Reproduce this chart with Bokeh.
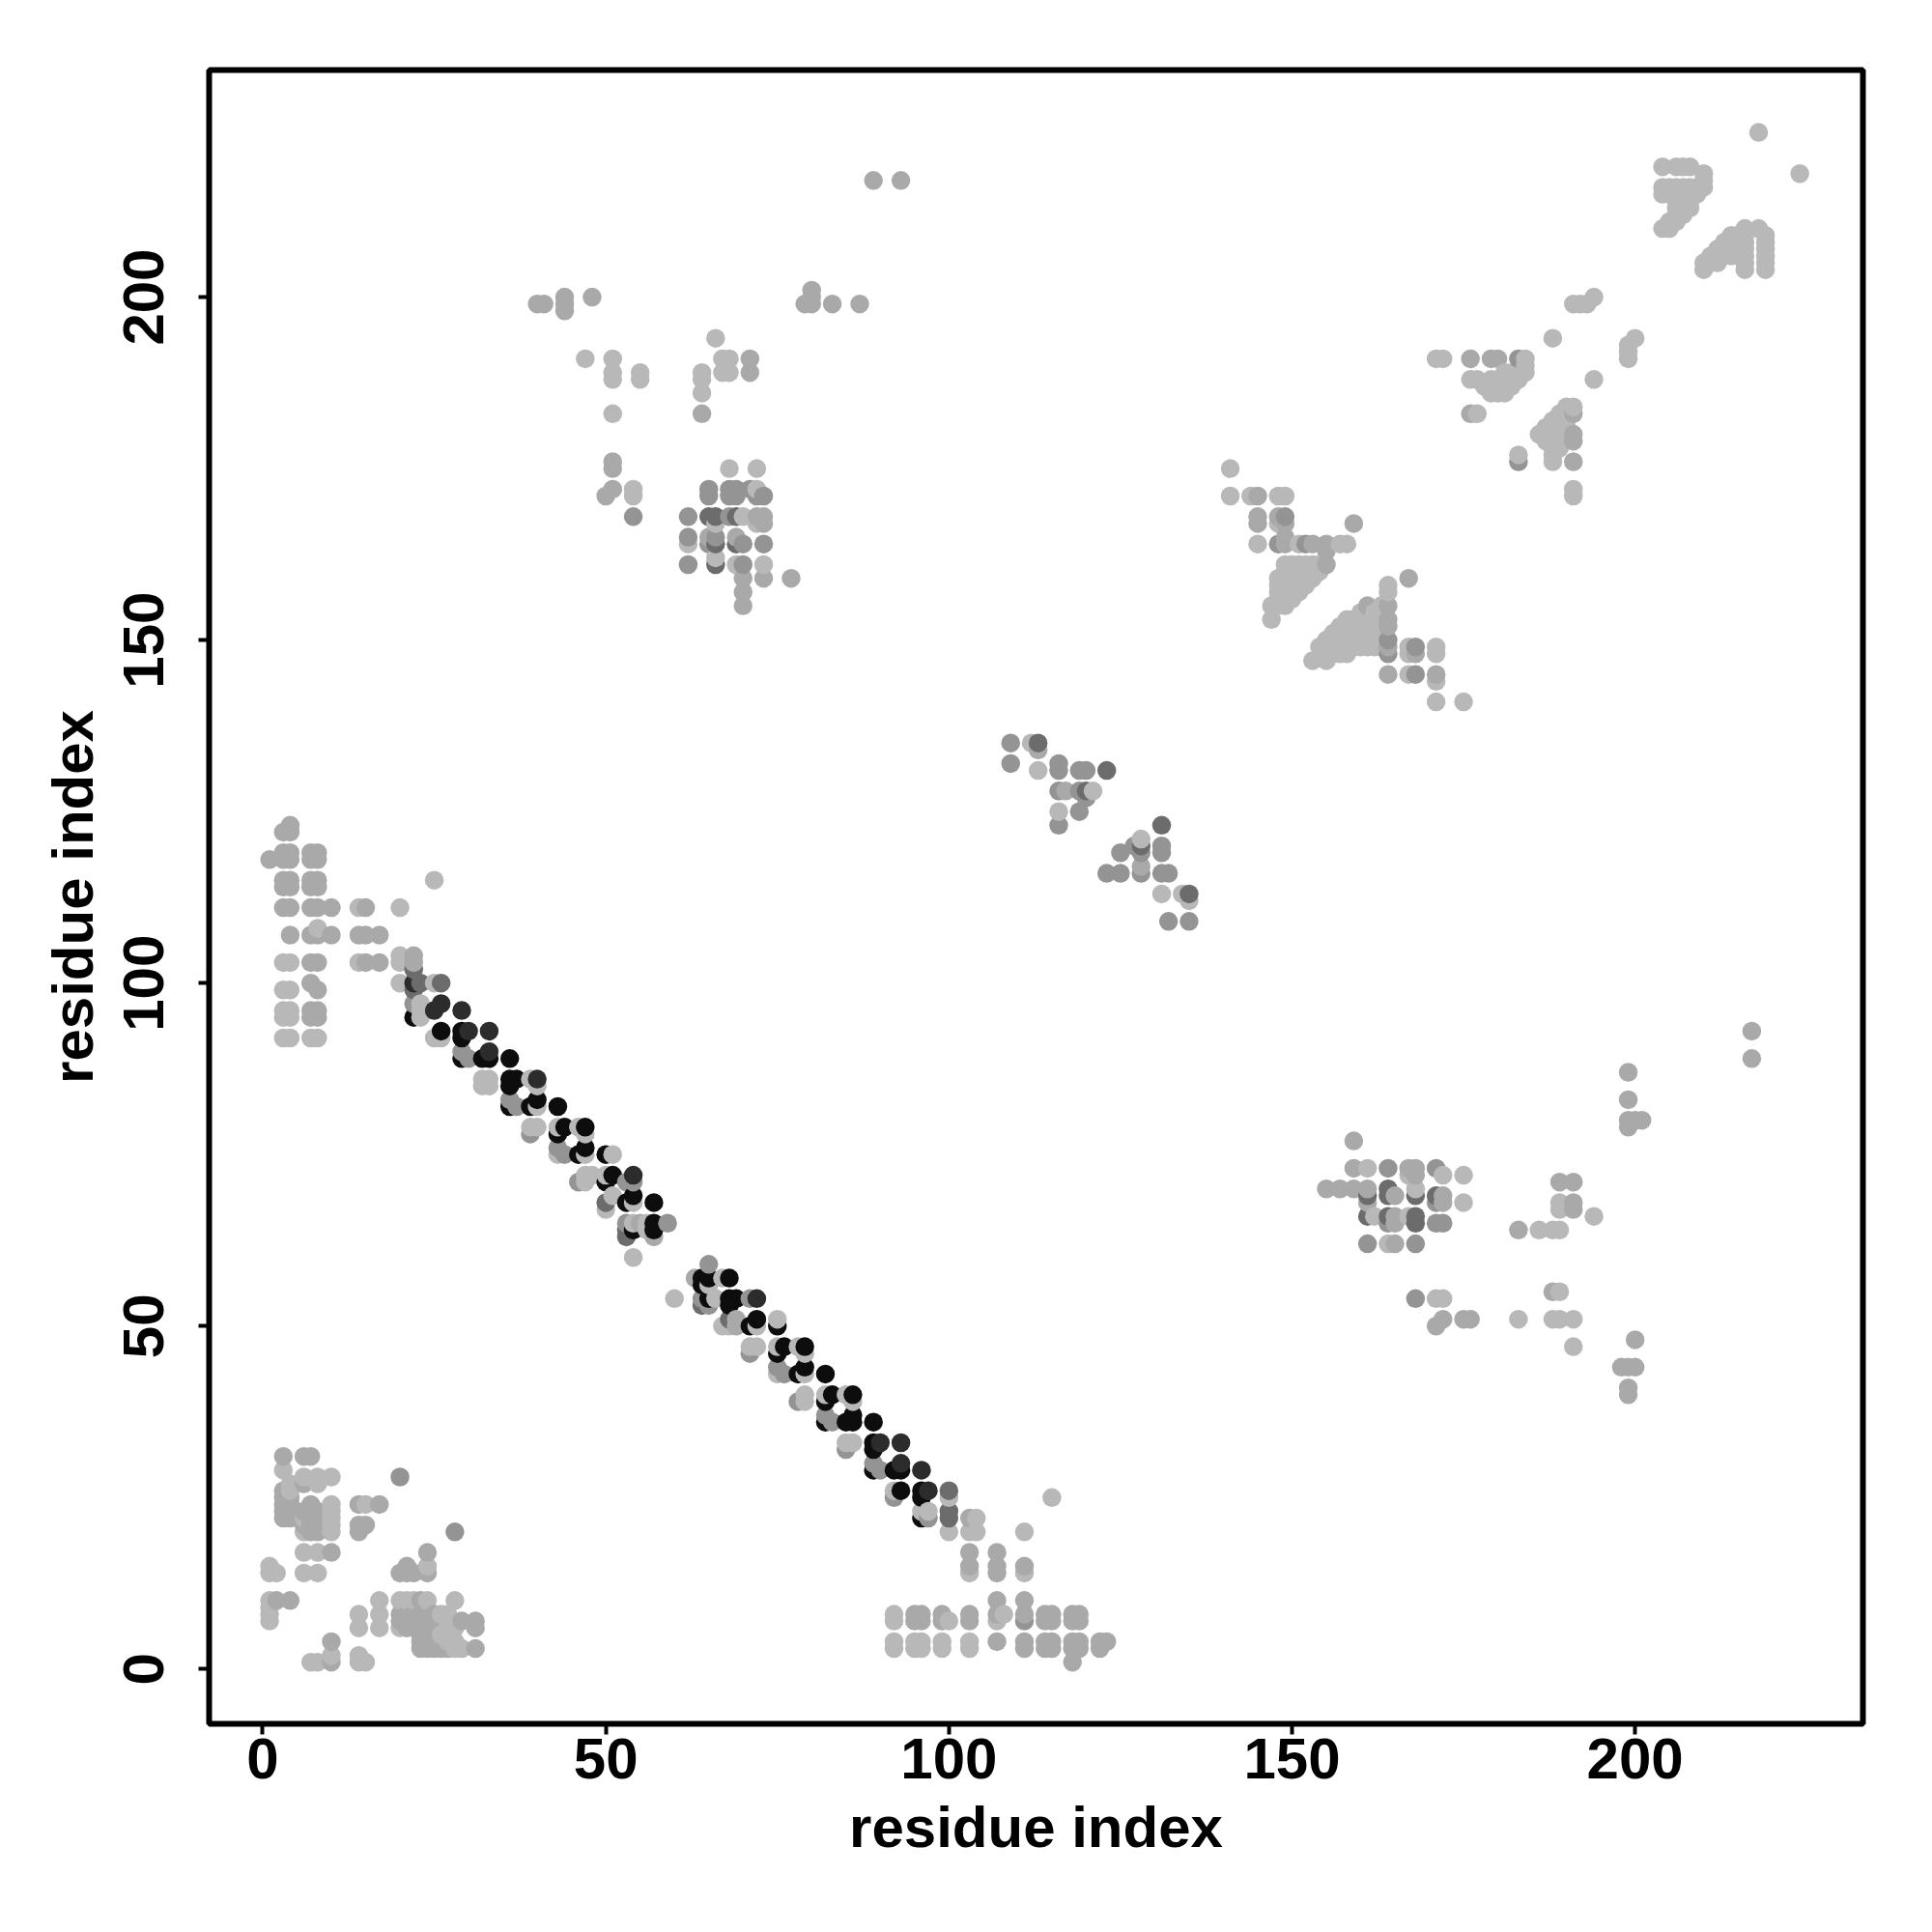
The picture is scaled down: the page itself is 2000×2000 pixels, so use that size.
from bokeh.plotting import figure
from bokeh.models import FixedTicker, Range1d
from bokeh.embed import file_html
from bokeh.resources import INLINE

# each list holds rows (y residue, [x residues]), one list per grey level
light_rows = [
 (1,[7,8,14,15]),(2,[10,14]),(3,[28,29,92,95,96,99,103]),(4,[27,28,92,95,96,99,103]),(5,[26]),(6,[14,17,20,27,28]),
 (7,[1,27,92,100,107]),(8,[1,14,17,26,27,92,108]),(9,[1]),(10,[1,17,20,21,22,24,28]),(14,[1,2,6,8,103,111]),(15,[1,24]),
 (17,[6,8]),(20,[6,10,100,103,104,111]),(21,[10]),(22,[6,10,104]),(23,[10,96,97]),(24,[10,15]),(25,[100,115]),(26,[4,92]),(27,[4,8]),
 (28,[6,8,10]),(29,[3]),(33,[85,86]),(39,[79,86]),(40,[79,82,85]),(43,[75,79]),(46,[79]),(47,[71,72,75,78]),(50,[67,68,72]),
 (51,[75]),(54,[60,66]),(56,[65]),(57,[67]),(60,[54]),(64,[56]),(65,[54,56]),(67,[50]),(69,[51]),(68,[54,175]),(72,[47,48,50,167,172,175]),
 (71,[47]),(75,[43,47,51]),(78,[47]),(79,[39,40,43,46]),(82,[40]),(85,[32,33,40]),(86,[32,33,39]),(92,[3,4,7,8,25,26]),
 (95,[3,4,23]),(96,[3,4,23]),(97,[23]),(99,[3,4]),(100,[20,25]),(103,[3,4,14,20]),(104,[20]),(108,[8]),(111,[14,20]),(115,[25]),
 (62,[164]),(64,[186,188,189]),(66,[162,167,194]),(67,[189]),(68,[189]),(69,[161]),(70,[168]),(73,[161]),(54,[171,172]),
 (51,[183,188,189,191]),(55,[189]),(47,[191]),(112,[135]),(113,[131,134]),(116,[125]),(121,[128]),(125,[116]),(128,[121]),(131,[113]),(135,[112]),
 (141,[171,175]),(144,[171]),(145,[167]),(147,[153,155]),(148,[155,156,157,158,167,171]),
 (149,[154,155,156,157,158,159,160,161,162,163,167,171]),(150,[155,156,157,158,159,160,161,162,163]),
 (151,[156,157,158,159,160,161,162,163]),(152,[157,158,159,160,161,162,163]),(153,[147,158,159,160,161,162,163]),
 (154,[160,161,162,163]),(155,[147,148,149,163]),(156,[148,149,150]),(157,[148,149,150,151,164]),(158,[148,149,150,151,152,164]),
 (159,[148,149,150,151,152,153]),(160,[149,150,151,152,153,154]),(161,[73,69,149,150,151,152,153,154]),(162,[66]),
 (164,[62,145,151,157,158]),(167,[66,72,148]),(168,[70]),(171,[54,141,144,148,149,191]),(172,[54,72,191]),(175,[68,72,141]),
 (177,[183,188]),(176,[188]),(178,[188,189]),(179,[187,188,189]),(180,[186,187,188,189]),(181,[187,188,189,190]),(182,[188,189,190]),
 (183,[51,177,189,190]),(184,[190,191]),(186,[64,179,180,181]),(187,[178,179,180,181,182]),(188,[51,55,64,176,177,179,180,181,182,183,194]),
 (189,[51,55,64,67,68,181,182,183,184]),(190,[184]),(191,[47,51,67,68,171,172,184,199]),(192,[199]),(193,[199]),(194,[66,188,200]),
 (199,[191,192,193]),(200,[194]),(204,[210,216,219]),(205,[210,211,212,216,219]),(206,[211,212,213,214,215,216,219]),
 (207,[212,213,214,215,216,219]),(208,[213,214,215,216,219]),(209,[214,215,216,219]),(210,[204,205,216,218]),(211,[205,206]),
 (212,[206,207]),(213,[206,207,208]),(214,[206,207,208]),(215,[204,205,206,207,208,209]),(216,[204,205,206,207,208,209,210]),
 (217,[210]),(218,[210,224]),(219,[204,206,207,208]),(224,[218]),
]
mid_rows = [
 (1,[10,118]),(3,[23,24,25,26,27,31,111,114,115,118,119,122]),(4,[10,23,24,25,26,107,111,114,115,118,119,122,123]),
 (5,[23,24,25]),(6,[21,22,23,24,25,31]),(7,[20,21,22,23,24,25,29,31,95,96,99,103,114,115,118,119]),
 (8,[20,21,22,23,24,25,95,96,99,103,107,111,114,115,118,119]),(10,[2,4,23,107,111]),(14,[20,21,22,24,107]),(15,[21,103,107,111]),
 (17,[10,24,103,107]),(20,[7,8,14]),(21,[6,7,8,14,15]),(22,[3,4,7,8,103]),(23,[3,4,6,7,8]),(24,[3,4,7,14,17]),(25,[3,4]),(26,[3]),(27,[6]),(31,[3,6,7]),
 (40,[199]),(41,[199]),(44,[198,199,200]),(48,[200]),(50,[171]),(51,[69,172,175,176]),(55,[188]),(63,[57]),(64,[183]),(65,[55,165]),
 (66,[165]),(62,[165]),(68,[161,172,191]),(67,[191]),(69,[165,172]),(70,[155,157,159,161]),(71,[189,191]),(72,[168]),(73,[159,167,168]),(77,[159]),
 (79,[199]),(80,[199,200,201]),(83,[199]),(87,[199]),(89,[217]),(93,[217]),(107,[4,7,8,10,14,15,17]),(100,[7]),(99,[8]),(96,[7,8]),(95,[7,8]),
 (103,[7,8,15,17]),(104,[22]),(103,[22]),(111,[3,4,7,8,10,15]),(114,[3,4,7,8]),(115,[3,4,7,8]),(118,[1,3,4,7,8]),(119,[3,4,7,8]),(122,[3,4]),(123,[4]),
 (57,[63]),(50,[69]),(117,[128]),(116,[123]),(123,[116]),(119,[131]),(128,[117]),(131,[119]),(134,[113]),
 (145,[164,168,171]),(148,[168]),(149,[164]),(152,[164]),(153,[164]),(155,[70,161,164]),(157,[70]),(159,[70,73,77,167]),(161,[155]),(163,[155]),(164,[149,153,155]),
 (165,[65,69,149]),(167,[73,145,149,159]),(168,[72,73,145,148]),(171,[50,145]),(172,[51,69]),(175,[51]),(176,[51,191]),
 (179,[191]),(180,[191]),(183,[64,176,191]),(191,[71,176,179,180]),(189,[71]),(198,[44]),(199,[40,41,44,79,80,83,87]),(200,[44,48,80]),(201,[80]),(217,[89,93]),
]
grey_rows = [
 (7,[111]),(20,[28]),(28,[20]),(22,[97]),(25,[92]),(29,[90]),(30,[89,93]),(32,[85]),(36,[83]),(37,[82]),(39,[78]),(43,[76]),(44,[75]),(46,[71]),
 (54,[64,71]),(59,[65]),(65,[53,59]),(71,[46,53,54]),(76,[43]),(75,[44]),(78,[39]),(82,[37]),(83,[36]),(89,[30]),(90,[29]),
 (53,[65]),(97,[22]),
 (54,[168]),(62,[161,168]),(65,[164,171,172]),(68,[171]),(73,[164,171]),(161,[62,70]),(164,[65,70,73]),(165,[62,66]),
 (168,[54,62,68]),(171,[65,68,69,72,73]),(172,[65,68,69,71]),
 (109,[132,135]),(116,[128,131,132,123,125]),(119,[125,128,131]),(120,[127,131]),(123,[116]),(125,[119]),(127,[120]),
 (128,[116,119]),(131,[116,119,120,123]),(132,[109,116]),(135,[109]),(145,[168]),(149,[168]),(150,[164]),(148,[164]),
 (164,[148,152]),(168,[149]),(176,[183]),(191,[183]),
]
dark_rows = [
 (22,[100]),(23,[100]),(26,[100]),(102,[22]),(53,[64]),(63,[53]),(64,[53]),(68,[50]),(51,[68]),(99,[22]),(100,[23,26]),
 (65,[168]),(69,[161,164,168,171]),(70,[164]),(66,[161,164,168]),(161,[66]),(164,[69,66]),(168,[69,66,65]),
 (123,[131]),(120,[128]),(113,[135]),(131,[123]),(135,[113]),(128,[120]),
]
vdark_rows = [
 (26,[97]),(96,[25,29]),(93,[30,33]),(86,[40]),(90,[33]),(72,[54]),(54,[72]),(33,[90,93]),(30,[93]),(29,[96]),(100,[22]),(97,[26]),
]
black_rows = [
 (22,[96]),(25,[96]),(26,[93,96]),(29,[89,92,93]),(32,[89]),(33,[89]),(36,[82,85,86,89]),(37,[86]),(39,[82]),(40,[83,86]),(43,[78,82]),
 (44,[79]),(46,[75]),(47,[76,79]),(50,[71,75]),(51,[72]),(53,[68]),(54,[69]),(57,[64,65,68]),(56,[64]),(54,[65,68,69]),
 (95,[22]),(93,[26,29]),(92,[29]),(89,[29,32,33,36]),(86,[36,37]),(85,[36]),(83,[40]),(82,[36,39,43]),
 (79,[44,47]),(78,[43]),(76,[47]),(75,[46,50]),(72,[51]),(71,[50]),(69,[54]),(68,[53,57]),(65,[57]),(64,[54,57]),
]
x_ticks = [0, 50, 100, 150, 200]
y_ticks = [0, 50, 100, 150, 200]
x_title = "residue index"
y_title = "residue index"

FONT = "Liberation Sans"
classes = [(light_rows, "#b8b8b8"), (mid_rows, "#a9a9a9"), (grey_rows, "#949494"),
           (dark_rows, "#6c6c6c"), (vdark_rows, "#2c2c2c"), (black_rows, "#0d0d0d")]
seen = {}
for rows, colour in classes:
    for y_val, x_vals in rows:
        for x_val in x_vals:
            seen[(x_val, y_val)] = colour

pts = sorted(seen)
xs = [a for a, b in pts]
ys = [b for a, b in pts]
cols = [seen[k] for k in pts]

p = figure(width=1984, height=1938, frame_width=1712, frame_height=1712,
           output_backend="svg", toolbar_location=None,
           x_range=Range1d(-7.81, 233.2), y_range=Range1d(-7.98, 233.1),
           min_border_left=216, min_border_top=72, min_border_right=40, min_border_bottom=100)
p.grid.visible = False
p.background_fill_color = "white"
p.border_fill_color = "white"
p.outline_line_color = "black"
p.outline_line_width = 6
p.scatter(xs, ys, size=19.5, color=cols, line_color=None, marker="circle")

for ax, ticks, title in ((p.xaxis[0], x_ticks, x_title), (p.yaxis[0], y_ticks, y_title)):
    ax.ticker = FixedTicker(ticks=ticks)
    ax.axis_line_color = None
    ax.major_tick_in = 0
    ax.major_tick_out = 11
    ax.major_tick_line_width = 4
    ax.major_tick_line_color = "black"
    ax.minor_tick_line_color = None
    ax.major_label_text_font = FONT
    ax.major_label_text_font_style = "bold"
    ax.major_label_text_font_size = "60px"
    ax.major_label_text_color = "black"
    ax.axis_label = title
    ax.axis_label_text_font = FONT
    ax.axis_label_text_font_style = "bold"
    ax.axis_label_text_font_size = "60px"
    ax.axis_label_text_color = "black"
p.yaxis[0].major_label_orientation = "vertical"
p.xaxis[0].major_label_standoff = 4
p.yaxis[0].major_label_standoff = 36
p.xaxis[0].axis_label_standoff = 14
p.yaxis[0].axis_label_standoff = 17

open("out.html", "w").write(file_html(p, INLINE))
